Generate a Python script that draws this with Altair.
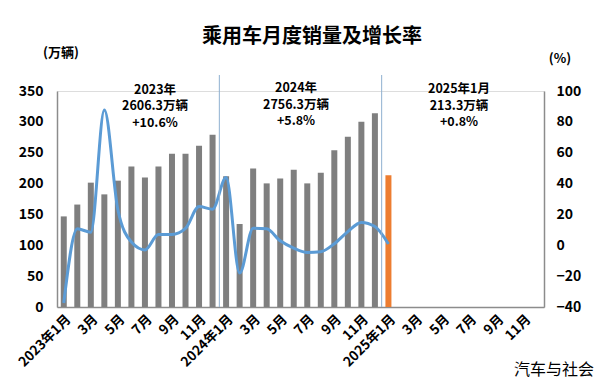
import altair as alt
import pandas as pd

FONT = "Noto Sans CJK SC"

months = [f"{y}年{m}月" for y in (2023, 2024, 2025) for m in range(1, 13)]

sales = [146.8, 166.0, 201.5, 182.5, 204.7, 227.8, 210.0, 227.8, 248.4, 248.4, 261.3, 279.2,
         211.7, 134.5, 224.6, 200.3, 208.4, 222.5, 200.3, 217.6, 253.8, 276.0, 300.3, 313.8,
         213.3]
growth = [-37.4, 10.7, 8.5, 87.7, 23.0, 2.1, -3.0, 7.0, 7.0, 10.9, 25.1, 23.4,
          43.9, -18.0, 11.1, 10.7, 2.9, -1.8, -4.6, -4.2, 1.0, 8.9, 14.8, 12.2,
          0.8]
kinds = ["hist"] * 24 + ["latest"]

divider_months = ["2024年1月", "2025年1月"]
notes = [["2023年", "2606.3万辆", "+10.6%"],
         ["2024年", "2756.3万辆", "+5.8%"],
         ["2025年1月", "213.3万辆", "+0.8%"]]

df = pd.DataFrame({"month": months[:25], "sales": sales, "growth": growth, "kind": kinds})

W, H = 487, 216
GRAY_AX = "#8c8c8c"

xscale = alt.Scale(domain=months, paddingInner=0, paddingOuter=0)
label_expr = (
    "(toNumber(split(split(datum.value,'年')[1],'月')[0]) % 2 == 0) ? '' : "
    "(split(split(datum.value,'年')[1],'月')[0] == '1' ? datum.value : split(datum.value,'年')[1])"
)
xaxis = alt.Axis(title=None, labelAngle=-45, labelExpr=label_expr, ticks=False,
                 domainColor=GRAY_AX, domainWidth=1.5, labelFont=FONT,
                 labelFontWeight="bold", labelFontSize=13.5, labelColor="black",
                 labelPadding=5, labelOverlap=False)

bars = alt.Chart(df).mark_bar(size=6).encode(
    x=alt.X("month:N", scale=xscale, sort=months, axis=xaxis),
    y=alt.Y("sales:Q", scale=alt.Scale(domain=[0, 350], nice=False),
            axis=alt.Axis(title=None, values=list(range(0, 351, 50)), ticks=False, grid=False,
                          domainColor=GRAY_AX, domainWidth=1.5, labelFont=FONT,
                          labelFontWeight="bold", labelFontSize=14, labelColor="black",
                          labelPadding=14)),
    color=alt.Color("kind:N", scale=alt.Scale(domain=["hist", "latest"], range=["#7f7f7f", "#ed7d31"]),
                    legend=None),
)

line = alt.Chart(df).mark_line(color="#5b9bd5", strokeWidth=3, interpolate="monotone").encode(
    x=alt.X("month:N", scale=xscale, sort=months),
    y=alt.Y("growth:Q", scale=alt.Scale(domain=[-40, 100], nice=False),
            axis=alt.Axis(title=None, orient="right", values=list(range(-40, 101, 20)), ticks=False,
                          grid=False, domainColor=GRAY_AX, domainWidth=1.5, labelFont=FONT,
                          labelFontWeight="bold", labelFontSize=14, labelColor="black",
                          labelPadding=12)),
)

rules = alt.Chart(pd.DataFrame({"month": divider_months})).mark_rule(color="#8fb0d0", strokeWidth=1).encode(
    x=alt.X("month:N", scale=xscale, sort=months, bandPosition=0),
    y=alt.value(-16), y2=alt.value(H),
)

def txt(s, x, y, size, weight="bold", align="center"):
    return alt.Chart(pd.DataFrame({"t": [s]})).mark_text(
        font=FONT, fontSize=size, fontWeight=weight, align=align, baseline="middle",
        color="black",
    ).encode(x=alt.value(x), y=alt.value(y), text="t:N")

texts = [
    txt("乘用车月度销量及增长率", 255, -54, 20),
    txt("(万辆)", 4, -38, 13),
    txt("(%)", 503, -32, 13),
    txt("汽车与社会", 497, 279, 16, weight="normal"),
]
note_pos = [(98, -1.5), (239, -3), (402, -2)]
for lines_, (nx, ny) in zip(notes, note_pos):
    for i, s in enumerate(lines_):
        texts.append(txt(s, nx, ny + i * 16.5, 12.5))

base = alt.layer(bars, line).resolve_scale(y="independent")
chart = alt.layer(base, rules, *texts).properties(
    width=W, height=H,
    padding={"left": 49, "top": 83, "right": 55, "bottom": 73},
    autosize=alt.AutoSizeParams(type="none"),
).configure_view(stroke=None).configure(font=FONT)

chart.save("out.html", embed_options={"renderer": "svg", "actions": False})
